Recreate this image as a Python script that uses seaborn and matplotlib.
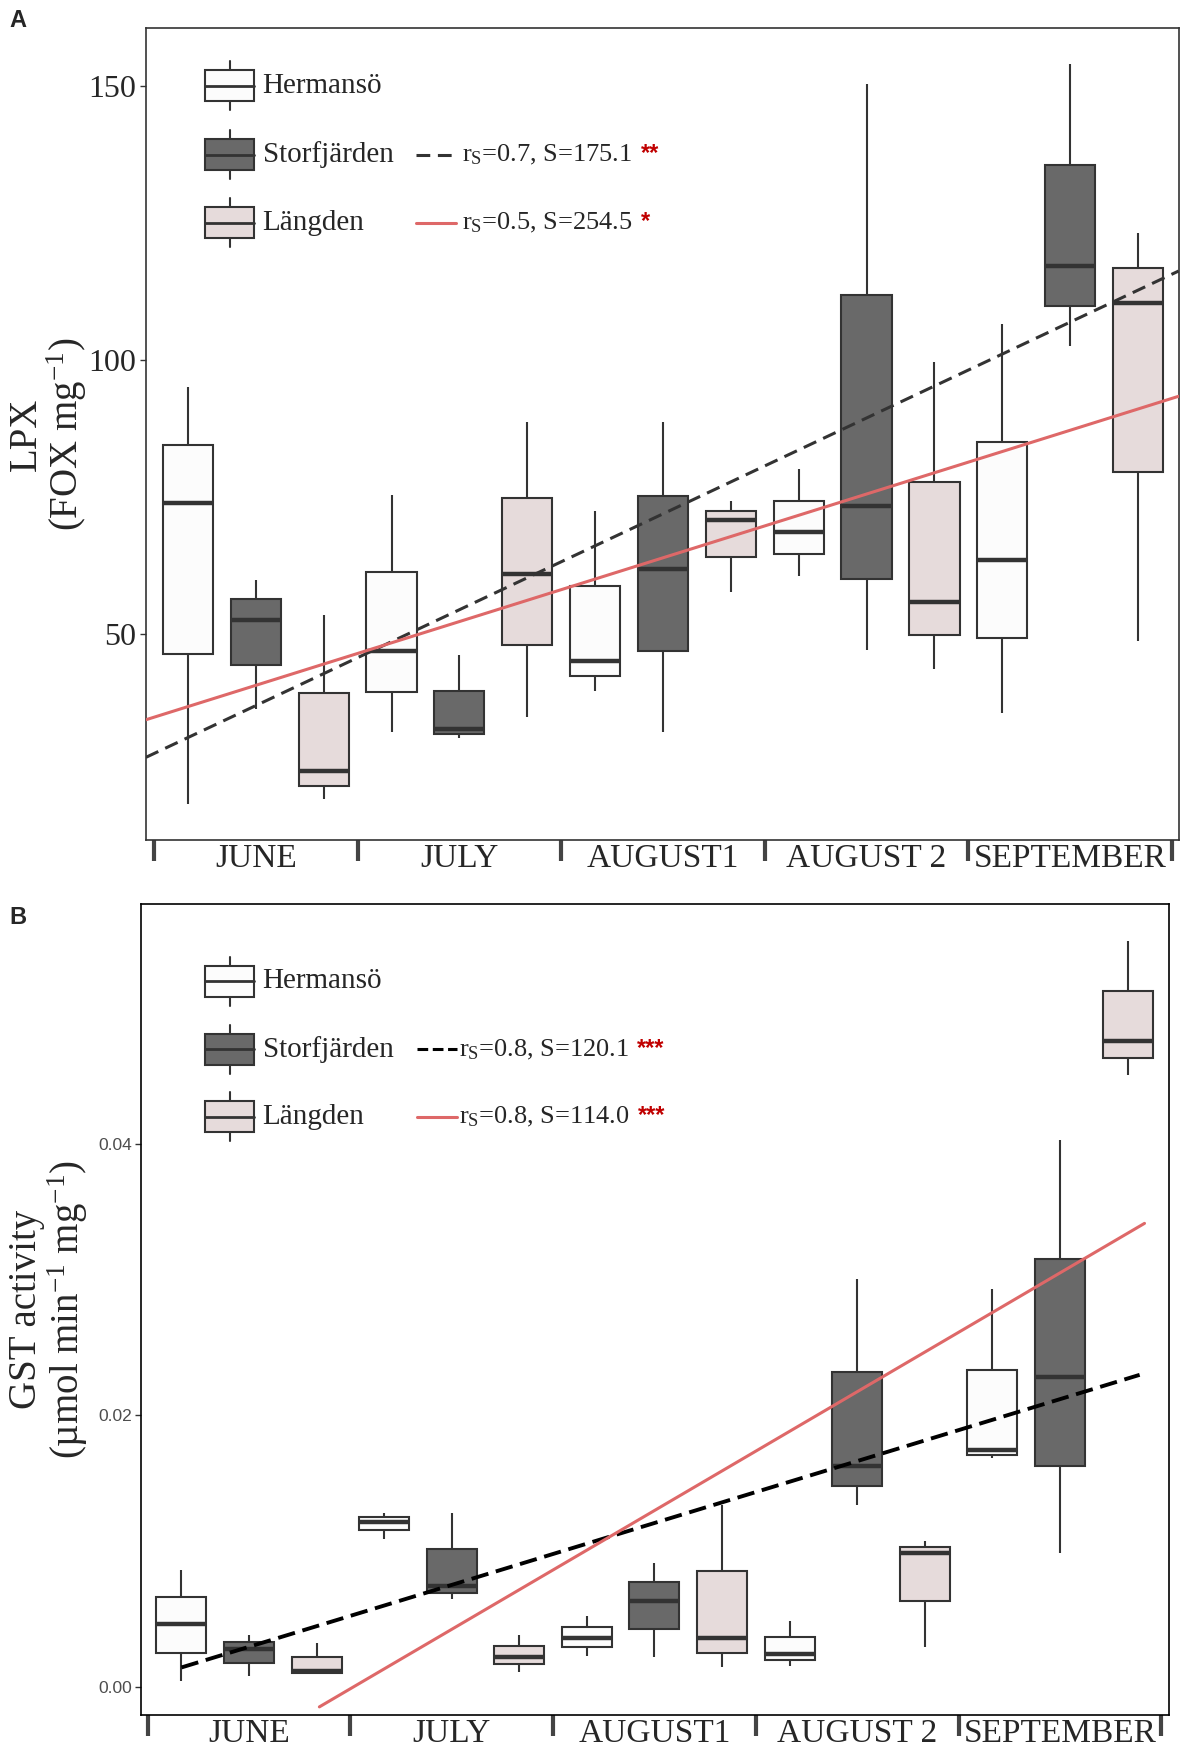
import numpy as np
import pandas as pd
import matplotlib
matplotlib.use("Agg")
import matplotlib.pyplot as plt
from matplotlib.patches import Rectangle
import seaborn as sns

# categories
months = ["JUNE", "JULY", "AUGUST1", "AUGUST 2", "SEPTEMBER"]
sites = ["Hermansö", "Storfjärden", "Längden"]
site_colors = ["#FCFCFC", "#696969", "#E6DBDB"]

# five-number summaries per month: lower whisker, Q1, median, Q3, upper whisker
lpx_hermanso = [[18.9, 46.3, 73.9, 84.5, 95.0], [32.0, 39.4, 46.8, 61.2, 75.4],
                [39.5, 42.3, 45.0, 58.8, 72.5], [60.5, 64.6, 68.6, 74.2, 80.1],
                [35.6, 49.3, 63.5, 85.0, 106.5]]
lpx_storfjarden = [[36.3, 44.4, 52.6, 56.3, 59.9], [31.0, 31.8, 32.7, 39.5, 46.2],
                   [32.0, 46.8, 61.9, 75.2, 88.6], [47.1, 60.0, 73.3, 111.8, 150.3],
                   [102.6, 109.8, 117.2, 135.6, 154.0]]
lpx_langden = [[19.8, 22.3, 24.9, 39.2, 53.5], [34.9, 47.9, 60.9, 74.8, 88.7],
               [57.6, 64.1, 70.8, 72.5, 74.2], [43.6, 49.7, 55.8, 77.8, 99.7],
               [48.7, 79.5, 110.3, 116.8, 123.1]]

gst_hermanso = [[0.00044, 0.00250, 0.00461, 0.00660, 0.00859],
                [0.01090, 0.01153, 0.01215, 0.01252, 0.01276],
                [0.00226, 0.00290, 0.00356, 0.00439, 0.00520],
                [0.00152, 0.00196, 0.00240, 0.00366, 0.00486],
                [0.01685, 0.01710, 0.01740, 0.02334, 0.02930]]
gst_storfjarden = [[0.00079, 0.00172, 0.00280, 0.00331, 0.00380],
                   [0.00643, 0.00687, 0.00744, 0.01014, 0.01283],
                   [0.00221, 0.00425, 0.00631, 0.00773, 0.00915],
                   [0.01340, 0.01480, 0.01627, 0.02316, 0.03004],
                   [0.00982, 0.01627, 0.02279, 0.03151, 0.04030]]
gst_langden = [[0.00100, 0.00103, 0.00115, 0.00221, 0.00319],
               [0.00110, 0.00164, 0.00221, 0.00302, 0.00380],
               [0.00142, 0.00250, 0.00361, 0.00852, 0.01335],
               [0.00290, 0.00633, 0.00987, 0.01031, 0.01077],
               [0.04508, 0.04631, 0.04754, 0.05122, 0.05490]]

# fitted trends (Storfjärden, Längden): value at JUNE and change per month
lpx_fit_intercept = [36.9, 40.6]
lpx_fit_slope = [17.5, 11.64]
gst_fit_intercept = [0.00294, -0.00452]
gst_fit_slope = [0.00456, 0.00875]
gst_fit_span = [[-0.333, 4.393], [0.347, 4.417]]

lpx_stats = ["r$_\\mathregular{S}$=0.7, S=175.1", "r$_\\mathregular{S}$=0.5, S=254.5"]
lpx_stars = ["**", "*"]
gst_stats = ["r$_\\mathregular{S}$=0.8, S=120.1", "r$_\\mathregular{S}$=0.8, S=114.0"]
gst_stars = ["***", "***"]

sns.set_style("ticks")
plt.rcParams["font.family"] = ["Liberation Serif", "DejaVu Serif"]
plt.rcParams["mathtext.fontset"] = "custom"
plt.rcParams["mathtext.rm"] = "Liberation Serif"
plt.rcParams["mathtext.it"] = "Liberation Serif:italic"

EDGE = "#333333"
RED = "#DE6868"
fit_styles = [dict(color=EDGE, ls=(0, (4.5, 2.5)), lw=2.2), dict(color=RED, ls="-", lw=2.2)]


def long_frame(groups):
    rows = []
    for site, summaries in zip(sites, groups):
        for month, five in zip(months, summaries):
            for v in five:
                rows.append((month, site, v))
    return pd.DataFrame(rows, columns=["month", "site", "value"])


def draw_boxes(ax, df):
    sns.boxplot(data=df, x="month", y="value", hue="site", order=months,
                hue_order=sites, palette=site_colors, saturation=1, width=1.0,
                gap=0.26, whis=(0, 100), linecolor=EDGE, linewidth=1.5,
                showcaps=False, medianprops={"linewidth": 3.2, "color": EDGE},
                legend=False, ax=ax)
    ax.set_xlabel("")
    ax.set_xticks(range(len(months)))
    ax.set_xticklabels(months, fontsize=24)
    ax.set_xticks(np.arange(len(months) + 1) - 0.5, minor=True)
    ax.tick_params(axis="x", which="major", length=0, pad=3)
    ax.tick_params(axis="x", which="minor", length=15, width=3, color="#444444")
    for s in ax.spines.values():
        s.set_color(EDGE)
        s.set_linewidth(1.2)


def draw_key(ax, rows, xc, bw, bh, wh, x_text, x_line, x_stat, stats, stars, star_size):
    for i, (site, color) in enumerate(zip(sites, site_colors)):
        y = rows[i]
        ax.add_patch(Rectangle((xc - bw / 2, y - bh / 2), bw, bh, transform=ax.transAxes,
                               facecolor=color, edgecolor=EDGE, lw=1.5, zorder=5))
        ax.plot([xc - bw / 2, xc + bw / 2], [y, y], transform=ax.transAxes,
                color=EDGE, lw=2, zorder=6)
        ax.plot([xc, xc], [y + bh / 2, y + wh], transform=ax.transAxes, color=EDGE, lw=1.5)
        ax.plot([xc, xc], [y - bh / 2, y - wh], transform=ax.transAxes, color=EDGE, lw=1.5)
        ax.text(x_text, y, site, transform=ax.transAxes, va="center", ha="left", fontsize=21)
        if i > 0:
            ax.plot(x_line, [y, y], transform=ax.transAxes, **fit_styles[i - 1])
            t = ax.text(x_stat, y, stats[i - 1], transform=ax.transAxes, va="center",
                        ha="left", fontsize=19)
            ax.annotate(stars[i - 1], xy=(1, 0.55), xycoords=t, xytext=(6, 0),
                        textcoords="offset points", va="center", ha="left",
                        color="#C00000", fontsize=star_size, fontweight="bold",
                        family="Liberation Sans")


fig = plt.figure(figsize=(11.81, 17.46), dpi=100)

# ---- panel A: LPX
ax1 = fig.add_axes([0.1235, 0.519, 0.8745, 0.465])
draw_boxes(ax1, long_frame([lpx_hermanso, lpx_storfjarden, lpx_langden]))
for b0, b1, st in zip(lpx_fit_intercept, lpx_fit_slope, fit_styles):
    ax1.axline((0, b0), slope=b1, zorder=4, **st)
ax1.set_xlim(-0.54, 4.533)
ax1.set_ylim(12.4, 160.6)
ax1.set_yticks([50, 100, 150])
ax1.tick_params(axis="y", labelsize=23, length=4, width=1, color=EDGE, pad=3)
ax1.set_ylabel("LPX\n(FOX mg$^{-1}$)", fontsize=28, linespacing=1.0)
ax1.yaxis.set_label_coords(-0.055, 0.5)
draw_key(ax1, [0.929, 0.844, 0.760], 0.081, 0.047, 0.0384, 0.030, 0.113,
         [0.262, 0.300], 0.306, lpx_stats, lpx_stars, 17)

# ---- panel B: GST
ax2 = fig.add_axes([0.1197, 0.018, 0.870, 0.464])
draw_boxes(ax2, long_frame([gst_hermanso, gst_storfjarden, gst_langden]))
gst_styles = [dict(color="black", ls=(0, (4.5, 2)), lw=2.8), dict(color=RED, ls="-", lw=2.2)]
for b0, b1, span, st in zip(gst_fit_intercept, gst_fit_slope, gst_fit_span, gst_styles):
    xs = np.array(span)
    ax2.plot(xs, b0 + b1 * xs, zorder=4, **st)
ax2.set_xlim(-0.531, 4.537)
ax2.set_ylim(-0.00205, 0.05762)
ax2.set_yticks([0.00, 0.02, 0.04])
ax2.set_yticklabels(["0.00", "0.02", "0.04"], family="Liberation Sans", fontsize=12.5,
                    color="#4D4D4D")
ax2.tick_params(axis="y", length=4, width=1, color=EDGE, pad=3)
for s in ax2.spines.values():
    s.set_color("black")
ax2.set_ylabel("GST activity\n(µmol min$^{-1}$ mg$^{-1}$)", fontsize=28, linespacing=1.0)
ax2.yaxis.set_label_coords(-0.050, 0.5)
fit_styles[0] = dict(color="black", ls=(0, (3.5, 1.5)), lw=2.2)
draw_key(ax2, [0.905, 0.821, 0.738], 0.086, 0.048, 0.0385, 0.030, 0.118,
         [0.268, 0.307], 0.309, gst_stats, gst_stars, 17)

fig.text(0.008, 0.995, "A", family="Liberation Sans", fontweight="bold", fontsize=17,
         va="top", ha="left")
fig.text(0.008, 0.481, "B", family="Liberation Sans", fontweight="bold", fontsize=17,
         va="top", ha="left")

fig.savefig("out.png", dpi=100)
